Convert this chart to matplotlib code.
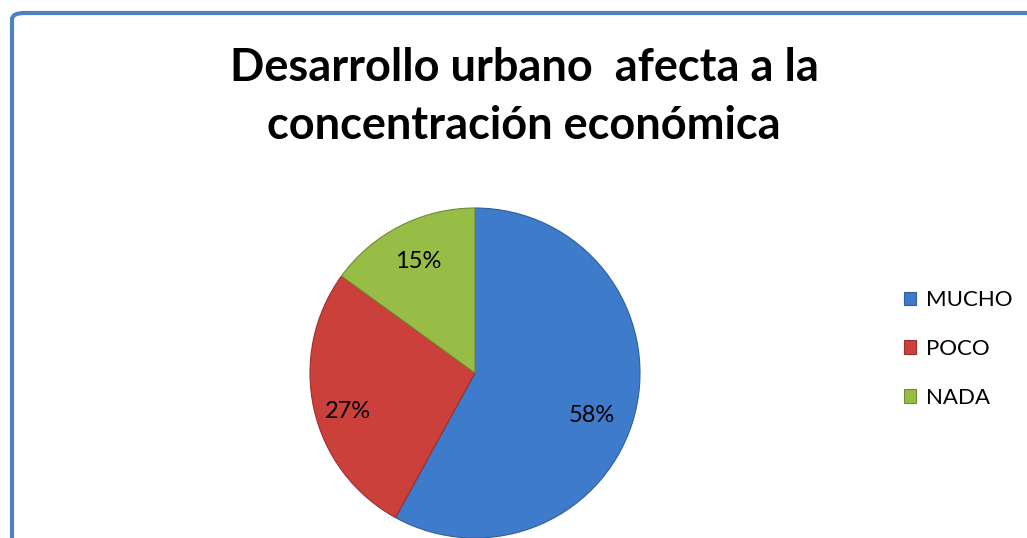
import matplotlib.pyplot as plt
from matplotlib.patches import FancyBboxPatch, Patch

categorias = ["MUCHO", "POCO", "NADA"]
valores = [58, 27, 15]
colores = ["#3F7BCB", "#CC403C", "#98BD47"]
bordes = ["#2F5F9E", "#9E2F2C", "#6F8C33"]

plt.rcParams['font.family'] = ['Lato', 'DejaVu Sans']

fig = plt.figure(figsize=(10.27, 5.38), dpi=100)

# marco azul con esquina redondeada (recortado a la derecha y abajo)
W, H = 1027, 538
marco = FancyBboxPatch((12 / W, -0.2), 1.2, 1.2 - 13 / H,
                       boxstyle="round,pad=0,rounding_size=0.012",
                       transform=fig.transFigure, facecolor="none",
                       edgecolor="#4F81BD", linewidth=3, zorder=0)
fig.patches.append(marco)

fig.text(524 / W, 1 - 97 / H, "Desarrollo urbano  afecta a la\nconcentración económica",
         ha="center", va="center", fontsize=32.5, fontweight="bold",
         linespacing=1.45)

cx, cy, r = 475, 373, 165
ax = fig.add_axes([(cx - r) / W, (H - cy - r) / H, 2 * r / W, 2 * r / H])
wedges, textos, pcts = ax.pie(valores, colors=colores, startangle=90, counterclock=False,
                              autopct="%1.0f%%", pctdistance=0.76,
                              wedgeprops=dict(linewidth=0.8),
                              textprops=dict(fontsize=17, color="black"))
for w, b in zip(wedges, bordes):
    w.set_edgecolor(b)
# Excel coloca las etiquetas algo más abajo
for t in pcts[:2]:
    x, y = t.get_position()
    t.set_position((x - 0.03, y - 0.07))
ax.set_xlim(-1, 1)
ax.set_ylim(-1, 1)
ax.axis("off")

handles = [Patch(facecolor=c, edgecolor=b, linewidth=0.8) for c, b in zip(colores, bordes)]
fig.legend(handles, categorias, loc="center left", bbox_to_anchor=(884 / W, 1 - 349 / H),
           frameon=False, fontsize=16, handlelength=0.55, handleheight=0.55,
           handletextpad=0.45, labelspacing=1.3)

fig.savefig("out.png", dpi=100)
